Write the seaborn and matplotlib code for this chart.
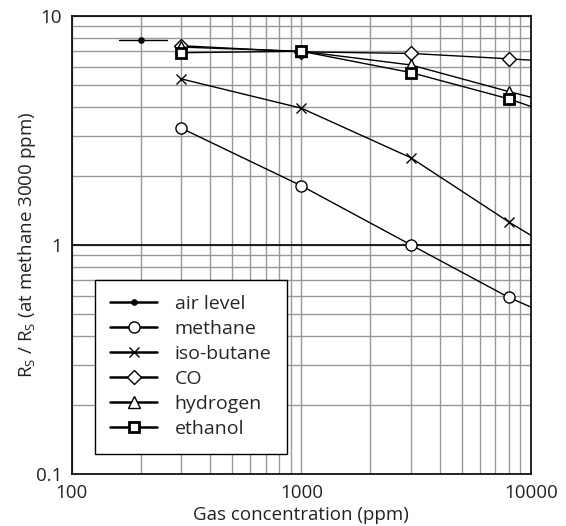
import matplotlib
matplotlib.use("Agg")
import matplotlib.pyplot as plt
import seaborn as sns
import numpy as np
from matplotlib.ticker import LogLocator, FixedLocator, NullFormatter

# dati (ultimo punto = prolungamento fino al bordo, senza marker)
conc = [300, 1000, 3000, 8000, 10000]
air_conc = [160, 200, 260]
air_level = [7.8, 7.8, 7.8]
methane = [3.23, 1.81, 1.0, 0.59, 0.535]
iso_butane = [5.3, 3.95, 2.4, 1.26, 1.1]
co = [7.4, 6.96, 6.85, 6.49, 6.4]
hydrogen = [7.3, 7.0, 6.1, 4.67, 4.41]
ethanol = [6.9, 7.0, 5.65, 4.34, 4.02]

sns.set_theme(style="white")
plt.rcParams['font.family'] = ['Open Sans', 'DejaVu Sans']

fig = plt.figure(figsize=(5.66, 5.26), dpi=100)
ax = fig.add_axes([0.127, 0.099, 0.811, 0.871])

ax.set_xscale("log")
ax.set_yscale("log")
ax.set_xlim(100, 10000)
ax.set_ylim(0.1, 10)

# griglia
ax.xaxis.set_minor_locator(LogLocator(base=10, subs=np.arange(2, 10)))
ax.yaxis.set_minor_locator(LogLocator(base=10, subs=np.arange(2, 10)))
ax.xaxis.set_minor_formatter(NullFormatter())
ax.yaxis.set_minor_formatter(NullFormatter())
ax.grid(True, which="both", color="#999999", linewidth=1, zorder=0)
ax.axhline(1, color="black", linewidth=1.2, zorder=1)

ax.xaxis.set_major_locator(FixedLocator([100, 1000, 10000]))
ax.yaxis.set_major_locator(FixedLocator([0.1, 1, 10]))
ax.set_xticklabels(["100", "1000", "10000"])
ax.set_yticklabels(["0.1", "1", "10"])
ax.tick_params(which="both", length=0, labelsize=13.5, colors="#222222", pad=7)

for s in ax.spines.values():
    s.set_color("black")
    s.set_linewidth(1.2)

mk = [0, 1, 2, 3]
common = dict(color="black", linewidth=1, markevery=mk, zorder=3)

sns.lineplot(x=air_conc, y=air_level, ax=ax, color="black", linewidth=1,
             marker="o", markersize=4, markerfacecolor="black", markeredgecolor="black",
             markevery=[1], label="air level", zorder=3)
sns.lineplot(x=conc, y=methane, ax=ax, marker="o", markersize=8,
             markerfacecolor="white", markeredgecolor="black", markeredgewidth=1,
             label="methane", **common)
sns.lineplot(x=conc, y=iso_butane, ax=ax, marker="x", markersize=7,
             markeredgecolor="black", markeredgewidth=1, label="iso-butane", **common)
sns.lineplot(x=conc, y=co, ax=ax, marker="D", markersize=7,
             markerfacecolor="white", markeredgecolor="black", markeredgewidth=1,
             label="CO", **common)
sns.lineplot(x=conc, y=hydrogen, ax=ax, marker="^", markersize=8,
             markerfacecolor="white", markeredgecolor="black", markeredgewidth=1,
             label="hydrogen", **common)
sns.lineplot(x=conc, y=ethanol, ax=ax, marker="s", markersize=7,
             markerfacecolor="white", markeredgecolor="black", markeredgewidth=2,
             label="ethanol", **common)

leg = ax.legend(loc="lower left", bbox_to_anchor=(0.05, 0.044), fontsize=14,
                frameon=True, fancybox=False, framealpha=1, edgecolor="black",
                handlelength=2.4, borderpad=0.8, labelspacing=0.36, handletextpad=0.9,
                borderaxespad=0)
leg.get_frame().set_linewidth(1)
leg.set_zorder(5)
for h in leg.get_lines():
    h.set_linewidth(1.8)

ax.set_xlabel("Gas concentration (ppm)", fontsize=13.5, color="#222222", labelpad=3)
ax.set_ylabel(r"R$_\mathregular{S}$ / R$_\mathregular{S}$ (at methane 3000 ppm)",
              fontsize=13.5, color="#222222")
ax.yaxis.set_label_coords(-0.074, 0.5)

fig.savefig("out.png", dpi=100)
